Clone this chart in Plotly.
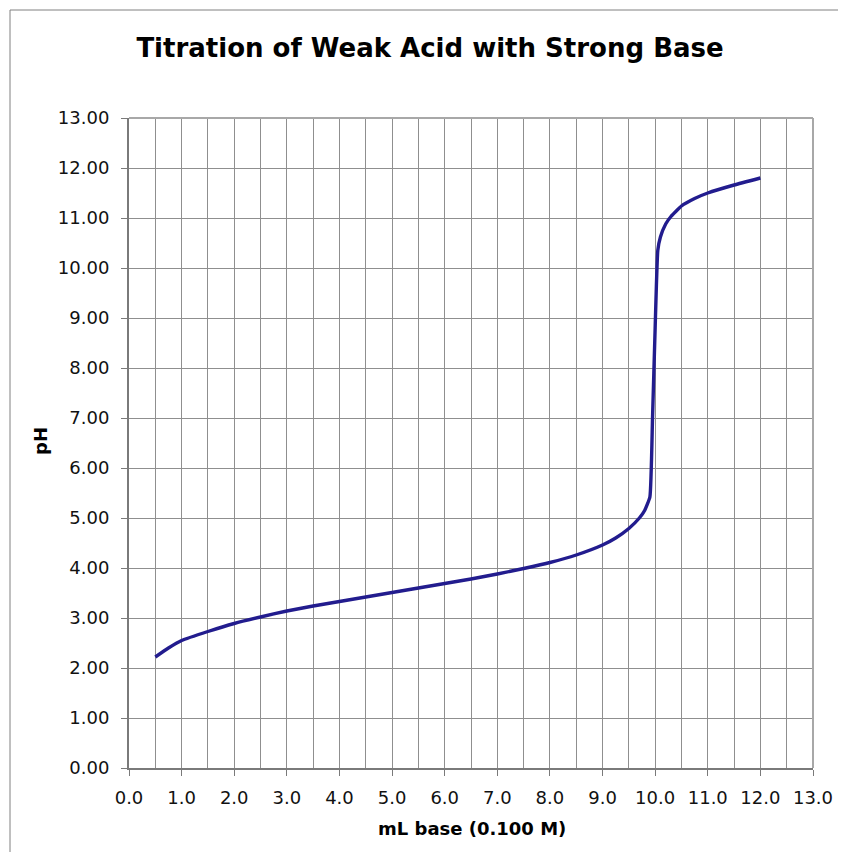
import plotly.graph_objects as go

# Data
ml_base = [0.5, 0.75, 1.0, 1.5, 2.0, 2.5, 3.0, 3.5, 4.0, 4.5, 5.0, 5.5, 6.0, 6.5, 7.0,
           7.5, 8.0, 8.5, 9.0, 9.25, 9.5, 9.7, 9.8, 9.9, 9.95, 10.0, 10.05, 10.1,
           10.2, 10.3, 10.5, 10.75, 11.0, 11.5, 12.0]
ph = [2.22, 2.40, 2.55, 2.73, 2.89, 3.02, 3.14, 3.24, 3.33, 3.42, 3.51, 3.60, 3.69,
      3.78, 3.88, 3.99, 4.11, 4.26, 4.46, 4.60, 4.79, 5.00, 5.15, 5.42, 7.0, 8.8,
      10.35, 10.62, 10.88, 11.03, 11.24, 11.39, 11.50, 11.66, 11.80]

x_tickvals = [float(v) for v in range(0, 14)]
x_ticktext = [f"{v:.1f}" for v in x_tickvals]
y_tickvals = [float(v) for v in range(0, 14)]
y_ticktext = [f"{v:.2f}" for v in y_tickvals]

W, H = 846, 852
OFF = 8  # page body margin
# plot area in screenshot pixels: 129..813 x, 118..768 y
L, R, T, B = 129 - OFF, 846 - 813 + OFF, 118 - OFF, 852 - 768 + OFF
pw, phh = W - L - R, H - T - B

def px(x):  # screenshot px -> paper x
    return (x - OFF - L) / pw

def py(y):  # screenshot px -> paper y
    return (H - B - (y - OFF)) / phh

fig = go.Figure()
fig.add_trace(go.Scatter(
    x=ml_base, y=ph, mode="lines",
    line=dict(color="#221C8E", width=3.4, shape="spline", smoothing=0.4),
    hoverinfo="x+y", showlegend=False,
))

grid = "#8f8f8f"
tickfont = dict(family="DejaVu Sans", size=18, color="#111")
fig.update_xaxes(
    range=[0, 13], tickvals=x_tickvals, ticktext=x_ticktext,
    showgrid=True, gridcolor=grid, gridwidth=1,
    minor=dict(dtick=0.5, showgrid=True, gridcolor=grid, gridwidth=1),
    showline=True, linecolor="#7a7a7a", linewidth=2,
    ticks="outside", ticklen=6, tickcolor="#7a7a7a",
    zeroline=False, tickfont=tickfont, ticklabelstandoff=6,
)
fig.update_yaxes(
    range=[0, 13], tickvals=y_tickvals, ticktext=y_ticktext,
    showgrid=True, gridcolor=grid, gridwidth=1,
    showline=True, linecolor="#7a7a7a", linewidth=2,
    ticks="outside", ticklen=6, tickcolor="#7a7a7a",
    zeroline=False, tickfont=tickfont, ticklabelstandoff=8,
)

shapes = [
    dict(type="line", xref="paper", yref="paper", x0=0, x1=1, y0=1, y1=1,
         line=dict(color="#a8a8a8", width=2)),
    dict(type="line", xref="paper", yref="paper", x0=1, x1=1, y0=0, y1=1,
         line=dict(color="#a8a8a8", width=2)),
    dict(type="line", xref="paper", yref="paper", x0=px(10), x1=px(W + 20),
         y0=py(10), y1=py(10), line=dict(color="#808080", width=1)),
    dict(type="line", xref="paper", yref="paper", x0=px(10), x1=px(10),
         y0=py(10), y1=py(H + 20), line=dict(color="#808080", width=1)),
]

titlefont = dict(family="DejaVu Sans", size=18, color="#000")
annotations = [
    dict(text="<b>mL base (0.100 M)</b>", xref="paper", yref="paper",
         x=px(472), y=py(828), xanchor="center", yanchor="middle",
         showarrow=False, font=titlefont),
    dict(text="<b>pH</b>", xref="paper", yref="paper", textangle=-90,
         x=px(40), y=py(441), xanchor="center", yanchor="middle",
         showarrow=False, font=titlefont),
]

fig.update_layout(
    width=W, height=H,
    margin=dict(l=L, r=R, t=T, b=B),
    paper_bgcolor="white", plot_bgcolor="white",
    title=dict(text="<b>Titration of Weak Acid with Strong Base</b>",
               x=(430 - OFF) / W, xanchor="center", y=1 - (48 - OFF) / H,
               yanchor="middle",
               font=dict(family="DejaVu Sans", size=26, color="#000")),
    shapes=shapes, annotations=annotations,
)

fig.write_html("out.html")
